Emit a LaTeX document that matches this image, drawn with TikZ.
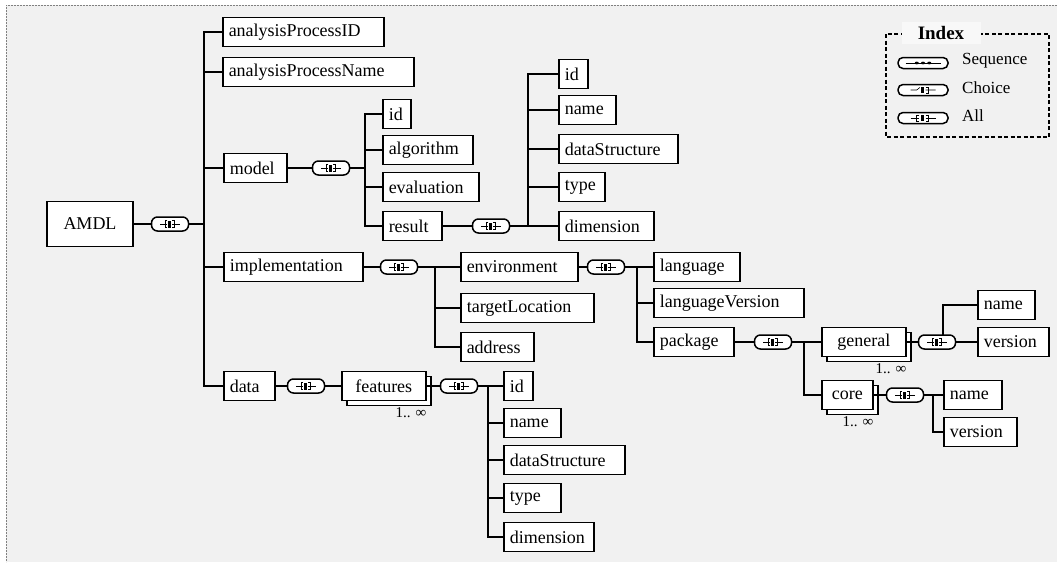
\documentclass[tikz,border=0pt]{standalone}
\usepackage{fontspec}
\setmainfont{Liberation Serif}
\usetikzlibrary{shadows}

\definecolor{sheet}{HTML}{F1F1F1}
\definecolor{indexbg}{HTML}{F8F8F8}

\tikzset{
    elem/.style={draw, line width=1.5pt, fill=white, anchor=west, minimum height=29pt,
        inner xsep=6pt, inner ysep=0pt, align=left, text width=#1},
    multi/.style={draw, line width=1.5pt, fill=white, anchor=west, minimum height=29pt,
        minimum width=#1, inner sep=0pt,
        copy shadow={shadow xshift=5pt, shadow yshift=-5pt, draw, fill=white, line width=1.5pt}},
    comp/.style={draw, line width=1.5pt, fill=white, rounded corners=6pt,
        minimum width=37pt, minimum height=14pt, inner sep=0pt},
    conn/.style={line width=1.8pt, line cap=rect},
    occurs/.style={anchor=north east, inner sep=0pt, yshift=-6pt, font=\fontsize{15}{17}\selectfont},
    legtext/.style={anchor=west, inner sep=0pt, font=\fontsize{17}{20}\selectfont},
    allicon/.pic={
        \draw[line width=0.6pt] (-10,0) -- (-3,0) (2,0) -- (10,0);
        \draw[line width=0.8pt] (-3,-3.5) -- (-5,-3.5) -- (-5,3.5) -- (-3,3.5);
        \fill (-2,-3.5) rectangle (0.8,3.5);
        \draw[line width=0.8pt] (2,-3.5) -- (4,-3.5) -- (4,3.5) -- (2,3.5);
    },
    choiceicon/.pic={
        \draw[line width=0.6pt] (-10,0) -- (-5,0) -- (-2.5,-3) (2,0) -- (10,0);
        \fill (-2,-3.5) rectangle (0.8,3.5);
        \draw[line width=0.8pt] (2,-3.5) -- (4,-3.5) -- (4,3.5) -- (2,3.5);
    },
    seqicon/.pic={
        \draw[line width=0.8pt] (-14,0) -- (14,0);
        \foreach \d in {-5,0,5} \fill (\d,0) circle (1.6);
    }
}

\begin{document}
\begin{tikzpicture}[x=1pt, y=-1pt, font=\fontsize{18}{21}\selectfont]
    \useasboundingbox (0,0) rectangle (1057,562);
    \fill[sheet] (6,5) rectangle (1057,562);
    \draw[gray, line width=0.6pt, dash pattern=on 2pt off 1pt] (1057,5) -- (6,5) -- (6,562);

    % root
    \node[draw, line width=1.5pt, fill=white, minimum width=86pt, minimum height=45pt] (amdl) at (90,224) {AMDL};
    \node[comp] (c0) at (170,224) {};
    \coordinate (b0) at (204,0);
    \node[elem=149] (apid) at (222,32) {analysisProcessID};
    \node[elem=179] (apname) at (222,72) {analysisProcessName};
    \node[elem=51] (model) at (223,168) {model};
    \node[elem=127] (impl) at (223,267) {implementation};
    \node[elem=39] (data) at (223,386) {data};

    % model
    \node[comp] (c1) at (331,168) {};
    \coordinate (b1) at (365,0);
    \node[elem=16] (mid) at (382,114) {id};
    \node[elem=78] (malg) at (382,150) {algorithm};
    \node[elem=84] (meval) at (382,187) {evaluation};
    \node[elem=47] (mres) at (382,226) {result};

    % result
    \node[comp] (c2) at (491,226) {};
    \coordinate (b2) at (528,0);
    \node[elem=17] (rid) at (558,74) {id};
    \node[elem=45] (rname) at (558,110) {name};
    \node[elem=107] (rds) at (558,149) {dataStructure};
    \node[elem=34] (rtype) at (558,187) {type};
    \node[elem=83] (rdim) at (558,226) {dimension};

    % implementation
    \node[comp] (c3) at (399,267) {};
    \coordinate (b3) at (435,0);
    \node[elem=105] (env) at (460,267) {environment};
    \node[elem=121] (tloc) at (460,308) {targetLocation};
    \node[elem=61] (addr) at (460,347) {address};

    % environment
    \node[comp] (c4) at (606,267) {};
    \coordinate (b4) at (637,0);
    \node[elem=74] (lang) at (653,267) {language};
    \node[elem=138] (langver) at (653,303) {languageVersion};
    \node[elem=68] (pkg) at (653,342) {package};

    % package
    \node[comp] (c5) at (773,342) {};
    \coordinate (b5) at (804,0);
    \node[multi=84pt] (gen) at (821,342) {general};
    \node[occurs] (genocc) at (gen.south east) {1.. ∞};
    \node[multi=51pt] (core) at (821,395) {core};
    \node[occurs] (coreocc) at (core.south east) {1.. ∞};

    \node[comp] (c6) at (937,342) {};
    \coordinate (b6) at (943,0);
    \node[elem=45] (gname) at (977,305) {name};
    \node[elem=59] (gver) at (977,342) {version};

    \node[comp] (c7) at (905,395) {};
    \coordinate (b7) at (933,0);
    \node[elem=46] (cname) at (943,395) {name};
    \node[elem=61] (cver) at (943,432) {version};

    % data
    \node[comp] (c8) at (306,386) {};
    \node[multi=84pt] (feat) at (341,386) {features};
    \node[occurs] (featocc) at (feat.south east) {1.. ∞};
    \node[comp] (c9) at (459,386) {};
    \coordinate (b9) at (488,0);
    \node[elem=17] (fid) at (503,386) {id};
    \node[elem=45] (fname) at (503,423) {name};
    \node[elem=109] (fds) at (503,460) {dataStructure};
    \node[elem=45] (ftype) at (503,498) {type};
    \node[elem=78] (fdim) at (503,537) {dimension};

    \foreach \i in {0,...,9} \pic at (c\i) {allicon};

    % connectors
    \draw[conn] (amdl) -- (c0);
    \draw[conn] (c0.east) -- (b0 |- c0.east);
    \draw[conn] (b0 |- apid.west) -- (b0 |- data.west);
    \foreach \n in {apid,apname,model,impl,data} \draw[conn] (b0 |- \n.west) -- (\n.west);

    \draw[conn] (model) -- (c1);
    \draw[conn] (c1.east) -- (b1 |- c1.east);
    \draw[conn] (b1 |- mid.west) -- (b1 |- mres.west);
    \foreach \n in {mid,malg,meval,mres} \draw[conn] (b1 |- \n.west) -- (\n.west);

    \draw[conn] (mres) -- (c2);
    \draw[conn] (c2.east) -- (b2 |- c2.east);
    \draw[conn] (b2 |- rid.west) -- (b2 |- rdim.west);
    \foreach \n in {rid,rname,rds,rtype,rdim} \draw[conn] (b2 |- \n.west) -- (\n.west);

    \draw[conn] (impl) -- (c3);
    \draw[conn] (c3.east) -- (b3 |- c3.east);
    \draw[conn] (b3 |- env.west) -- (b3 |- addr.west);
    \foreach \n in {env,tloc,addr} \draw[conn] (b3 |- \n.west) -- (\n.west);

    \draw[conn] (env) -- (c4);
    \draw[conn] (c4.east) -- (b4 |- c4.east);
    \draw[conn] (b4 |- lang.west) -- (b4 |- pkg.west);
    \foreach \n in {lang,langver,pkg} \draw[conn] (b4 |- \n.west) -- (\n.west);

    \draw[conn] (pkg) -- (c5);
    \draw[conn] (c5.east) -- (b5 |- c5.east);
    \draw[conn] (b5 |- gen.west) -- (b5 |- core.west);
    \foreach \n in {gen,core} \draw[conn] (b5 |- \n.west) -- (\n.west);

    \draw[conn] (gen) -- (c6);
    \draw[conn] (c6) -- (gver);
    \draw[conn] (b6 |- c6.north) |- (gname.west);

    \draw[conn] (core) -- (c7);
    \draw[conn] (c7.east) -- (b7 |- c7.east);
    \draw[conn] (b7 |- cname.west) -- (b7 |- cver.west);
    \foreach \n in {cname,cver} \draw[conn] (b7 |- \n.west) -- (\n.west);

    \draw[conn] (data) -- (c8);
    \draw[conn] (c8) -- (feat);
    \draw[conn] (feat) -- (c9);
    \draw[conn] (c9.east) -- (b9 |- c9.east);
    \draw[conn] (b9 |- fid.west) -- (b9 |- fdim.west);
    \foreach \n in {fid,fname,fds,ftype,fdim} \draw[conn] (b9 |- \n.west) -- (\n.west);

    % index
    \draw[line width=1.2pt, dash pattern=on 4pt off 2.5pt] (886,34) rectangle (1049,137);
    \node[fill=indexbg, minimum width=79pt, minimum height=22pt, font=\fontsize{19}{22}\selectfont\bfseries] (idx) at (941,33) {Index};
    \node[comp, minimum width=50pt, minimum height=11pt, rounded corners=5pt] (lseq) at (923,63) {};
    \node[comp, minimum width=50pt, minimum height=11pt, rounded corners=5pt] (lcho) at (923,90) {};
    \node[comp, minimum width=50pt, minimum height=11pt, rounded corners=5pt] (lall) at (923,118) {};
    \pic[xscale=1.25, yscale=0.85] at (lseq) {seqicon};
    \pic[xscale=1.25, yscale=0.85] at (lcho) {choiceicon};
    \pic[xscale=1.25, yscale=0.85] at (lall) {allicon};
    \node[legtext] (tseq) at (962,61) {Sequence};
    \node[legtext] (tcho) at (962,88) {Choice};
    \node[legtext] (tall) at (962,116) {All};
\end{tikzpicture}
\end{document}
